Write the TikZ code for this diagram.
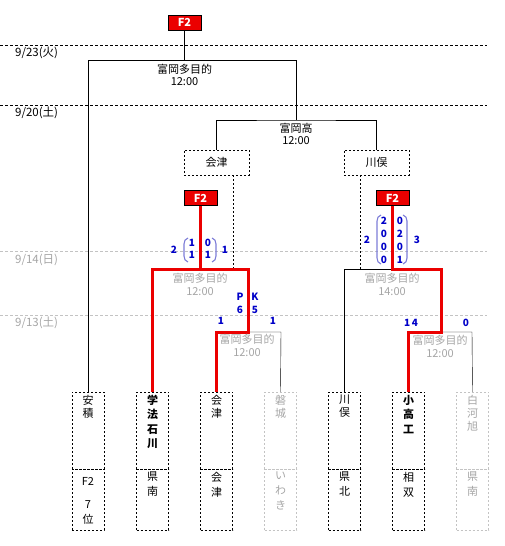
\documentclass[tikz,border=0pt]{standalone}
\usepackage{fontspec}
\setmainfont{Noto Sans CJK JP}
\usetikzlibrary{positioning}
\definecolor{winred}{RGB}{235,0,0}
\definecolor{scoreblue}{RGB}{0,0,200}
\definecolor{parencol}{RGB}{125,125,215}
\definecolor{fadetext}{RGB}{165,165,165}
\definecolor{dashgray}{RGB}{195,195,195}
\tikzset{
    % 決勝進出の赤い箱
    f2box/.style={
        draw=black, fill=winred, text=white,
        font=\bfseries\fontsize{11}{11}\selectfont,
        minimum width=33pt, minimum height=15pt, inner sep=0pt
    },
    sfbox/.style={
        draw, dash pattern=on 2pt off 2pt,
        minimum width=65pt, minimum height=25pt, inner sep=0pt,
        font=\fontsize{11}{11}\selectfont
    },
    teambox/.style={
        draw, dash pattern=on 2pt off 2pt,
        minimum width=32pt, inner sep=0pt
    },
    fadebox/.style={teambox, draw=dashgray},
    namestack/.style={
        anchor=north, inner sep=0pt, align=center,
        font=\fontsize{11}{13}\selectfont
    },
    venue/.style={align=center, inner sep=0pt, font=\fontsize{11}{12.5}\selectfont},
    datelbl/.style={anchor=west, inner sep=0pt, font=\fontsize{11.5}{11.5}\selectfont},
    score/.style={inner sep=0pt, text=scoreblue, font=\bfseries\fontsize{10}{10}\selectfont},
    dateline/.style={dash pattern=on 3pt off 2pt},
    fadeline/.style={dashgray, dash pattern=on 3pt off 2pt},
    linkdash/.style={dash pattern=on 2pt off 2pt},
    winline/.style={line width=3pt, winred},
    paren/.style={parencol, line width=1.1pt}
}
\begin{document}
\begin{tikzpicture}[x=1pt,y=-1pt]
    \useasboundingbox (0,0) rectangle (505,546);

    % 日付の線
    \draw[dateline] (0,45) -- (487,45);
    \draw[dateline] (0,105) -- (487,105);
    \draw[fadeline] (0,251) -- (487,251);
    \draw[fadeline] (0,315) -- (487,315);
    \node[datelbl] (d1) at (15,53) {9/23(火)};
    \node[datelbl] (d2) at (15,113) {9/20(土)};
    \node[datelbl,text=fadetext] (d3) at (15,260) {9/14(日)};
    \node[datelbl,text=fadetext] (d4) at (15,323) {9/13(土)};

    \path
    (296,60) coordinate (fR)
    (296,120) coordinate (sM)
    (233,269) coordinate (qaD)
    (200,269) coordinate (qaM)
    (248,269) coordinate (qaR)
    (248,332) coordinate (raM)
    (281,332) coordinate (raR)
    (360,269) coordinate (qbD)
    (392,269) coordinate (qbM)
    (441,269) coordinate (qbR)
    (441,332) coordinate (rbM)
    (472,332) coordinate (rbR);

    % 箱
    \node[f2box] (f2fin) at (184.5,22.5) {F2};
    \node[f2box] (f2a) at (200.5,198) {F2};
    \node[f2box] (f2b) at (392.5,198) {F2};
    \node[sfbox] (sfA) at (216.5,162.5) {会津};
    \node[sfbox] (sfB) at (376.5,162.5) {川俣};

    \node[teambox,minimum height=77pt] (tm1) at (88,430.5) {};
    \node[teambox,minimum height=77pt] (tm2) at (152.5,430.5) {};
    \node[teambox,minimum height=77pt] (tm3) at (216.5,430.5) {};
    \node[fadebox,minimum height=77pt] (tm4) at (280.5,430.5) {};
    \node[teambox,minimum height=77pt] (tm5) at (344.5,430.5) {};
    \node[teambox,minimum height=77pt] (tm6) at (408.5,430.5) {};
    \node[fadebox,minimum height=77pt] (tm7) at (472.5,430.5) {};
    \node[teambox,minimum height=61pt] (pr1) at (88,499.5) {};
    \node[teambox,minimum height=61pt] (pr2) at (152.5,499.5) {};
    \node[teambox,minimum height=61pt] (pr3) at (216.5,499.5) {};
    \node[fadebox,minimum height=61pt] (pr4) at (280.5,499.5) {};
    \node[teambox,minimum height=61pt] (pr5) at (344.5,499.5) {};
    \node[teambox,minimum height=61pt] (pr6) at (408.5,499.5) {};
    \node[fadebox,minimum height=61pt] (pr7) at (472.5,499.5) {};

    % 校名と地区
    \node[namestack] (n1) at ([yshift=-3pt]tm1.north) {安\\積};
    \node[namestack,font=\bfseries\fontsize{11}{14.3}\selectfont] (n2) at ([yshift=-3pt]tm2.north) {学\\法\\石\\川};
    \node[namestack] (n3) at ([yshift=-3pt]tm3.north) {会\\津};
    \node[namestack,text=fadetext] (n4) at ([yshift=-3pt]tm4.north) {磐\\城};
    \node[namestack] (n5) at ([yshift=-3pt]tm5.north) {川\\俣};
    \node[namestack,font=\bfseries\fontsize{11}{14.5}\selectfont] (n6) at ([yshift=-3pt]tm6.north) {小\\高\\工};
    \node[namestack,text=fadetext] (n7) at ([yshift=-3pt]tm7.north) {白\\河\\旭};
    \node[namestack,font=\fontsize{11}{15}\selectfont] (a1) at ([yshift=-8pt]pr1.north) {F2\\[8pt]7\\位};
    \node[namestack,font=\fontsize{11}{15}\selectfont] (a2) at ([yshift=-3pt]pr2.north) {県\\南};
    \node[namestack,font=\fontsize{11}{15}\selectfont] (a3) at ([yshift=-3pt]pr3.north) {会\\津};
    \node[namestack,font=\fontsize{11}{15}\selectfont,text=fadetext] (a4) at ([yshift=-3pt]pr4.north) {い\\わ\\き};
    \node[namestack,font=\fontsize{11}{15}\selectfont] (a5) at ([yshift=-3pt]pr5.north) {県\\北};
    \node[namestack,font=\fontsize{11}{15}\selectfont] (a6) at ([yshift=-3pt]pr6.north) {相\\双};
    \node[namestack,font=\fontsize{11}{15}\selectfont,text=fadetext] (a7) at ([yshift=-3pt]pr7.north) {県\\南};

    % 黒線
    \draw (f2fin.south) -- (f2fin.south |- fR);
    \draw (tm1.north) |- (fR) -- (sM);
    \draw (sfA.north) |- (sM) -| (sfB.north);
    \draw[linkdash] (sfA.south -| qaD) -- (qaD);
    \draw[linkdash] (sfB.south -| qbD) -- (qbD);
    \draw (raM) -- (raR) -- (tm4.north);
    \draw (tm5.north) |- (qbM);
    \draw (rbM) -- (rbR) -- (tm7.north);

    % 赤線
    \draw[winline] (f2a.south) -- (f2a.south |- qaM);
    \draw[winline] (tm2.north) |- (qaR) -- (raM) -| (tm3.north);
    \draw[winline] (f2b.south) |- (qbR) -- (rbM) -| (tm6.north);

    % 会場
    \node[venue] (v1) at (184.5,75) {富岡多目的\\12:00};
    \node[venue] (v2) at (296,134) {富岡高\\12:00};
    \node[venue,text=fadetext] (v3) at (200,284.5) {富岡多目的\\12:00};
    \node[venue,text=fadetext] (v4) at (392,284.5) {富岡多目的\\14:00};
    \node[venue,text=fadetext] (v5) at (247,345.5) {富岡多目的\\12:00};
    \node[venue,text=fadetext] (v6) at (440,346.5) {富岡多目的\\12:00};

    % スコア
    \node[score] (sa0) at (174,250) {2};
    \node[score] (sa1) at (192,243) {1};
    \node[score] (sa2) at (192,255) {1};
    \node[score] (sa3) at (208,243) {0};
    \node[score] (sa4) at (208,255) {1};
    \node[score] (sa5) at (225,250) {1};
    \draw[paren] (188,238) to[out=195,in=90] (184,244) -- (184,256) to[out=-90,in=165] (188,262);
    \draw[paren] (212,238) to[out=-15,in=90] (216,244) -- (216,256) to[out=-90,in=15] (212,262);

    \node[score] (pk1) at (240,297) {P};
    \node[score] (pk2) at (255,297) {K};
    \node[score] (pk3) at (240,310) {6};
    \node[score] (pk4) at (255,310) {5};
    \node[score] (ra1) at (221,321) {1};
    \node[score] (ra2) at (273,321) {1};

    \node[score] (sb0) at (367,240) {2};
    \foreach \v [count=\i] in {2,0,0,0}
        \node[score] (sbl\i) at (384,208+13*\i) {\v};
    \foreach \v [count=\i] in {0,2,0,1}
        \node[score] (sbr\i) at (400,208+13*\i) {\v};
    \node[score] (sb9) at (417,240) {3};
    \draw[paren] (381,215) to[out=195,in=90] (377,221) -- (377,258) to[out=-90,in=165] (381,264);
    \draw[paren] (403,215) to[out=-15,in=90] (407,221) -- (407,258) to[out=-90,in=15] (403,264);

    \node[score] (rb1) at (411,323) {1\,4};
    \node[score] (rb2) at (466,323) {0};
\end{tikzpicture}
\end{document}
